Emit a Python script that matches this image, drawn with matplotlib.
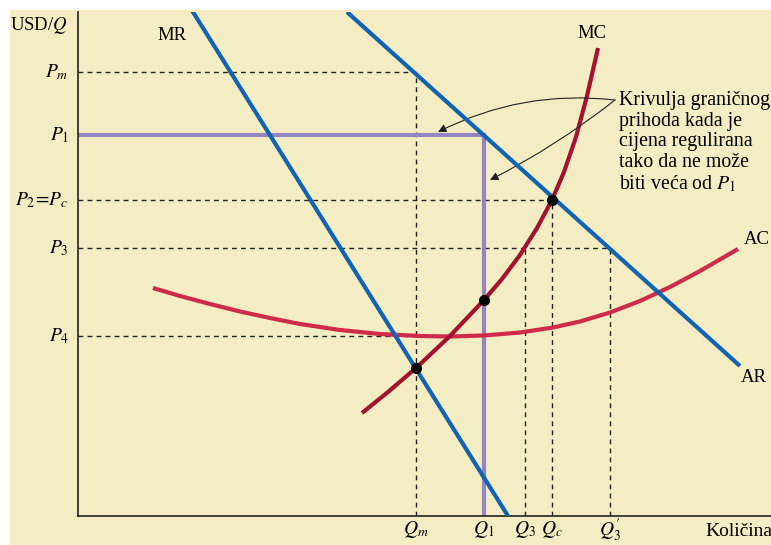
import matplotlib
matplotlib.use("Agg")
import matplotlib.pyplot as plt
from matplotlib.patches import Rectangle

plt.rcParams["font.family"] = "serif"
plt.rcParams["font.serif"] = ["Liberation Serif", "DejaVu Serif"]
plt.rcParams["mathtext.fontset"] = "stix"

# price levels (arbitrary units)
P_M, P_1, P_C, P_3, P_4 = 44.4, 38.1, 31.6, 26.8, 18.0
# quantities
Q_M, Q_1, Q_3, Q_C, Q_3P = 33.8, 40.6, 44.7, 47.4, 53.2

# demand (AR) and marginal revenue (MR) lines: end points
ar_q = [26.9, 66.2]
ar_p = [50.4, 15.0]
mr_q = [11.5, 43.0]
mr_p = [50.4, 0.0]

# marginal cost curve
mc_q = [28.4, 31.0, 33.8, 37.2, 40.6, 42.4, 44.2, 45.9, 47.4, 48.6, 49.8, 50.9, 52.0]
mc_p = [10.3, 12.4, 14.8, 18.0, 21.6, 23.7, 26.1, 28.8, 31.6, 34.4, 37.9, 42.0, 46.8]

# average cost curve
ac_q = [7.5, 10.2, 13.2, 16.2, 19.2, 22.2, 26.2, 30.2, 34.2, 37.2, 40.6, 44.2,
        47.5, 50.2, 53.2, 56.2, 59.2, 62.2, 66.0]
ac_p = [22.8, 22.0, 21.2, 20.45, 19.8, 19.2, 18.6, 18.2, 18.0, 17.95, 18.05, 18.35,
        18.85, 19.45, 20.35, 21.5, 22.9, 24.5, 26.7]

BG = "#f4edc3"
BLUE = "#1263b3"
MC_RED = "#a3132f"
AC_RED = "#d02a4a"
PURPLE = "#9384c2"
INK = "#222222"

fig = plt.figure(figsize=(7.71, 5.45), dpi=100)
fig.patches.append(Rectangle((10 / 771, 0), 1, 535 / 545, transform=fig.transFigure,
                             facecolor=BG, edgecolor="none", zorder=-10))
ax = fig.add_axes([78 / 771, 29 / 545, 693 / 771, 504 / 545])
ax.set_facecolor("none")
ax.set_xlim(0, 69.3)
ax.set_ylim(0, 50.4)
for s in ["top", "right"]:
    ax.spines[s].set_visible(False)
for s in ["left", "bottom"]:
    ax.spines[s].set_color(INK)
    ax.spines[s].set_linewidth(1.2)
ax.set_xticks([]); ax.set_yticks([])

dash = dict(color=INK, lw=1.0, ls=(0, (3.5, 3)), zorder=1)
ax.plot([0, Q_M], [P_M, P_M], **dash)
ax.plot([0, Q_C], [P_C, P_C], **dash)
ax.plot([0, Q_3P], [P_3, P_3], **dash)
ax.plot([0, Q_M], [P_4, P_4], **dash)
ax.plot([Q_M, Q_M], [0, P_M], **dash)
ax.plot([Q_3, Q_3], [0, P_3], **dash)
ax.plot([Q_C, Q_C], [0, P_C], **dash)
ax.plot([Q_3P, Q_3P], [0, P_3], **dash)

# regulated MR: horizontal at P1, then vertical at Q1
ax.plot([0, Q_1, Q_1], [P_1, P_1, 0], color=PURPLE, lw=3, zorder=2, solid_joinstyle="miter")

ax.plot(ac_q, ac_p, color=AC_RED, lw=3, zorder=3, solid_capstyle="butt")
ax.plot(mc_q, mc_p, color=MC_RED, lw=3, zorder=3, solid_capstyle="butt")
ax.plot(mr_q, mr_p, color=BLUE, lw=3, zorder=4)
ax.plot(ar_q, ar_p, color=BLUE, lw=3, zorder=4, solid_capstyle="butt")

ax.plot([Q_M, Q_1, Q_C], [mc_p[2], mc_p[4], P_C], "o", color="black", ms=7, zorder=5)

fs = 14
ylabels = [(P_M, r"$P_m$"), (P_1, r"$P_1$"), (P_C, r"$P_2\!=\!P_c$"), (P_3, r"$P_3$"), (P_4, r"$P_4$")]
for p, t in ylabels:
    ax.text(-0.9, p, t, ha="right", va="center", fontsize=fs, clip_on=False)
xlabels = [(Q_M, r"$Q_m$"), (Q_1, r"$Q_1$"), (Q_3, r"$Q_3$"), (Q_C, r"$Q_c$"), (Q_3P, r"$Q_3^{\prime}$")]
for q, t in xlabels:
    ax.text(q, -1.4, t, ha="center", va="center", fontsize=fs, clip_on=False)
ax.text(62.7, -1.5, "Količina", ha="left", va="center", fontsize=14, clip_on=False)
ax.text(-1.0, 49.1, r"USD/$Q$", ha="right", va="center", fontsize=13.5, clip_on=False)
ax.text(9.4, 48.1, "MR", ha="center", va="center", fontsize=13.5)
ax.text(51.4, 48.3, "MC", ha="center", va="center", fontsize=13.5)
ax.text(66.6, 27.6, "AC", ha="left", va="center", fontsize=13.5, clip_on=False)
ax.text(66.3, 13.9, "AR", ha="left", va="center", fontsize=13.5)

ax.text(54.1, 42.5, "Krivulja graničnog\nprihoda kada je\ncijena regulirana\ntako da ne može\n"
        r"biti veća od $P_1$", ha="left", va="top", fontsize=14.3, linespacing=1.12, clip_on=False)
arrow = dict(arrowstyle="-|>", lw=0.8, color=INK, mutation_scale=12, shrinkA=0, shrinkB=0)
ax.annotate("", xy=(36.0, 38.4), xytext=(53.7, 41.6),
            arrowprops=dict(connectionstyle="arc3,rad=0.15", **arrow))
ax.annotate("", xy=(41.2, 33.6), xytext=(53.7, 41.6),
            arrowprops=dict(connectionstyle="arc3,rad=-0.05", **arrow))

fig.savefig("out.png", dpi=100, facecolor="white")
